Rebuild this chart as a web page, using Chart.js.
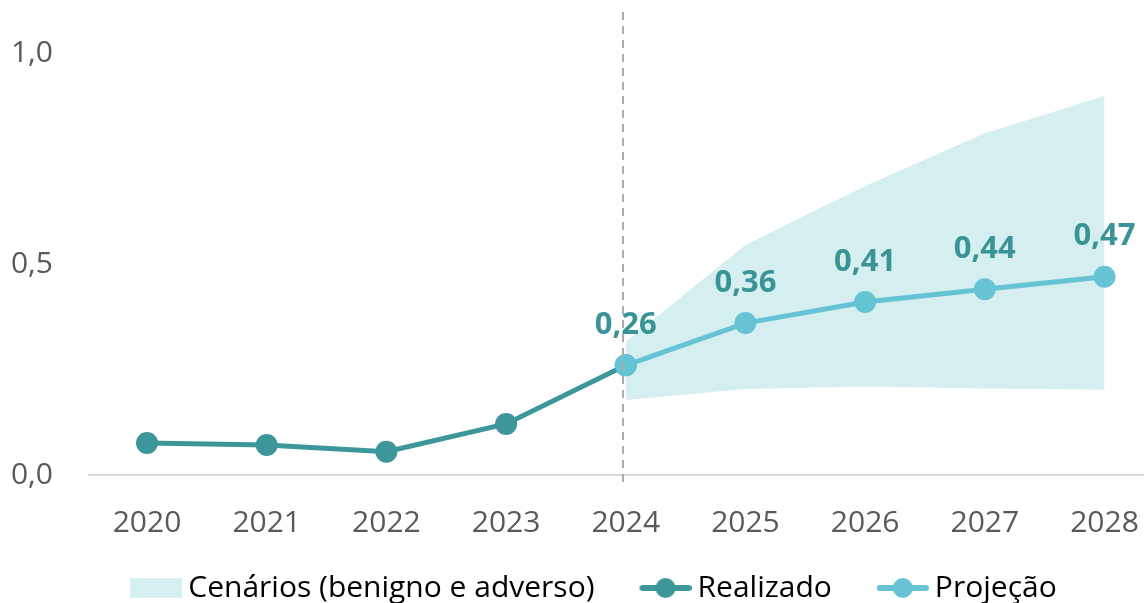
<!DOCTYPE html>
<html lang="pt-BR">
<head>
<meta charset="utf-8">
<title>Cenários</title>
<script src="https://cdn.jsdelivr.net/npm/chart.js@4.4.1/dist/chart.umd.min.js"></script>
<style>
  html, body { margin: 0; padding: 0; background: #ffffff; }
  #wrap { width: 1144px; height: 603px; position: relative; }
</style>
</head>
<body>
<div id="wrap"><canvas id="scenarioChart"></canvas></div>
<script>
// Dados
const years = [2020, 2021, 2022, 2023, 2024, 2025, 2026, 2027, 2028];
const realizedYears = [2020, 2021, 2022, 2023, 2024];
const realizedValues = [0.076, 0.071, 0.055, 0.121, 0.26];
const projectionYears = [2024, 2025, 2026, 2027, 2028];
const projectionValues = [0.26, 0.36, 0.41, 0.44, 0.47];
const scenarioLower = [0.178, 0.204, 0.21, 0.205, 0.202];
const scenarioUpper = [0.316, 0.545, 0.685, 0.81, 0.898];
const yTicks = [0, 0.5, 1.0];
const legendLabels = ['Cenários (benigno e adverso)', 'Realizado', 'Projeção'];

const COLOR_REAL = '#3d9699';
const COLOR_PROJ = '#66c3d4';
const COLOR_BAND = '#d5eef0';
const COLOR_LABEL = '#3a9497';
const COLOR_TEXT = '#595959';

Chart.defaults.font.family = "'Open Sans', 'Noto Sans', sans-serif";
Chart.defaults.font.size = 30;
Chart.defaults.color = COLOR_TEXT;

function toPoints(xs, ys) {
    return xs.map((x, i) => ({ x: x, y: ys[i] }));
}

function fmt(v, digits) {
    return v.toFixed(digits).replace('.', ',');
}

// Ícones da legenda (desenho à direita, margem transparente à esquerda)
function legendIcon(kind, color) {
    const c = document.createElement('canvas');
    c.width = 104;
    c.height = 24;
    const g = c.getContext('2d');
    if (kind === 'box') {
        g.fillStyle = color;
        g.fillRect(52, 2, 52, 20);
    } else {
        g.strokeStyle = color;
        g.lineWidth = 6;
        g.lineCap = 'round';
        g.beginPath();
        g.moveTo(55, 12);
        g.lineTo(101, 12);
        g.stroke();
        g.fillStyle = color;
        g.beginPath();
        g.arc(78, 12, 10, 0, Math.PI * 2);
        g.fill();
    }
    return c;
}

const icons = [legendIcon('box', COLOR_BAND), legendIcon('line', COLOR_REAL), legendIcon('line', COLOR_PROJ)];

// Linha vertical tracejada em 2024
const dividerPlugin = {
    id: 'divider',
    afterDraw(chart) {
        const { ctx, chartArea, scales } = chart;
        const x = Math.round(scales.x.getPixelForValue(2024)) - 3;
        ctx.save();
        ctx.strokeStyle = '#ababab';
        ctx.lineWidth = 2;
        ctx.setLineDash([8, 6]);
        ctx.beginPath();
        ctx.moveTo(x, 12);
        ctx.lineTo(x, chartArea.bottom + 8);
        ctx.stroke();
        ctx.restore();
    }
};

// Rótulos de valor da projeção
const valueLabelPlugin = {
    id: 'valueLabels',
    afterDatasetsDraw(chart) {
        const { ctx } = chart;
        const meta = chart.getDatasetMeta(0);
        ctx.save();
        ctx.font = "bold 31px 'Open Sans', 'Noto Sans', sans-serif";
        ctx.fillStyle = COLOR_LABEL;
        ctx.textAlign = 'center';
        ctx.textBaseline = 'middle';
        meta.data.forEach((pt, i) => {
            ctx.fillText(fmt(projectionValues[i], 2), pt.x, pt.y - 40);
        });
        ctx.restore();
    }
};

new Chart(document.getElementById('scenarioChart'), {
    type: 'line',
    data: {
        datasets: [
            {
                label: legendLabels[2],
                data: toPoints(projectionYears, projectionValues),
                borderColor: COLOR_PROJ,
                backgroundColor: COLOR_PROJ,
                borderWidth: 5,
                pointRadius: 11,
                pointHoverRadius: 11,
                pointBorderWidth: 0,
                fill: false
            },
            {
                label: legendLabels[1],
                data: toPoints(realizedYears, realizedValues),
                borderColor: COLOR_REAL,
                backgroundColor: COLOR_REAL,
                borderWidth: 5,
                pointRadius: 11,
                pointHoverRadius: 11,
                pointBorderWidth: 0,
                fill: false
            },
            {
                label: legendLabels[0],
                data: toPoints(projectionYears, scenarioUpper),
                borderWidth: 0,
                borderColor: 'transparent',
                backgroundColor: COLOR_BAND,
                pointRadius: 0,
                fill: '+1'
            },
            {
                label: 'lower',
                data: toPoints(projectionYears, scenarioLower),
                borderWidth: 0,
                borderColor: 'transparent',
                backgroundColor: COLOR_BAND,
                pointRadius: 0,
                fill: false
            }
        ]
    },
    options: {
        responsive: true,
        maintainAspectRatio: false,
        animation: false,
        layout: {
            autoPadding: false,
            padding: { top: 52, right: 0, bottom: -10, left: 0 }
        },
        plugins: {
            tooltip: { enabled: false },
            legend: {
                position: 'bottom',
                labels: {
                    usePointStyle: true,
                    pointStyleWidth: 86,
                    padding: 2,
                    color: COLOR_TEXT,
                    font: { size: 30 },
                    generateLabels: function() {
                        return legendLabels.map((text, i) => ({
                            text: text,
                            pointStyle: icons[i],
                            fillStyle: 'transparent',
                            strokeStyle: 'transparent',
                            lineWidth: 0,
                            hidden: false,
                            datasetIndex: i
                        }));
                    }
                },
                onClick: function() {}
            }
        },
        scales: {
            x: {
                type: 'linear',
                min: 2019.507,
                max: 2028.33,
                grid: { display: false, drawTicks: false },
                border: { display: false },
                afterBuildTicks: function(axis) {
                    axis.ticks = years.map(v => ({ value: v }));
                },
                afterFit: function(axis) {
                    axis.paddingLeft = 0;
                    axis.paddingRight = 0;
                },
                ticks: {
                    padding: 30,
                    color: COLOR_TEXT,
                    autoSkip: false,
                    maxRotation: 0,
                    callback: function(value) {
                        return String(value);
                    }
                }
            },
            y: {
                min: 0,
                max: 1.0,
                border: { display: false },
                grid: {
                    drawTicks: false,
                    lineWidth: 2,
                    color: function(ctx) {
                        return ctx.tick && ctx.tick.value === 0 ? '#d9d9d9' : 'transparent';
                    }
                },
                afterBuildTicks: function(axis) {
                    axis.ticks = yTicks.map(v => ({ value: v }));
                },
                afterFit: function(axis) {
                    axis.width = 88;
                },
                ticks: {
                    padding: 35,
                    color: COLOR_TEXT,
                    callback: function(value) {
                        return fmt(value, 1);
                    }
                }
            }
        }
    },
    plugins: [dividerPlugin, valueLabelPlugin]
});
</script>
</body>
</html>
